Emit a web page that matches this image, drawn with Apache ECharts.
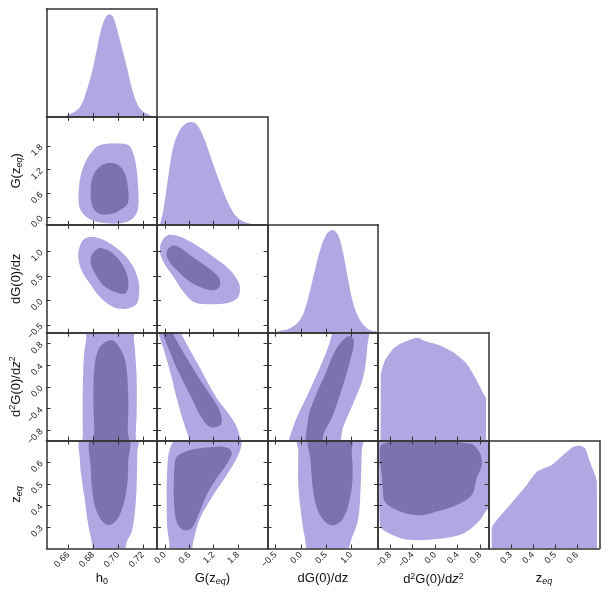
<!DOCTYPE html>
<html lang="en">
<head>
<meta charset="utf-8">
<title>Triangle plot</title>
<script src="https://cdn.jsdelivr.net/npm/echarts@6.0.0/dist/echarts.min.js"></script>
<style>
    html, body { margin: 0; padding: 0; background: #fff; }
    #chart { width: 609px; height: 596px; }
</style>
</head>
<body>
<div id="chart"></div>
<script>
// tick values for each parameter
const h0Ticks = [0.66, 0.68, 0.70, 0.72];
const gTicks = [0.0, 0.6, 1.2, 1.8];
const dgTicks = [-0.5, 0.0, 0.5, 1.0];
const d2gTicks = [-0.8, -0.4, 0.0, 0.4, 0.8];
const zeqTicks = [0.3, 0.4, 0.5, 0.6];

// axis limits (x per column, y per row)
const xLims = [[0.6425, 0.7315], [-0.19, 2.53], [-0.66, 1.54], [-1.01, 0.95], [0.2, 0.7]];
const yLims = [null, [-0.19, 2.53], [-0.66, 1.54], [-0.99, 1.0], [0.2, 0.7]];

// 1D marginals (normalised to peak)
const h0_pdf = [[0.6425, 0], [0.656, 0.005], [0.662, 0.03], [0.6695, 0.097], [0.6749, 0.26], [0.6802, 0.49], [0.6856, 0.81], [0.6896, 0.96], [0.6931, 1.0], [0.6963, 0.97], [0.7017, 0.74], [0.7071, 0.49], [0.7124, 0.23], [0.7178, 0.08], [0.7258, 0.017], [0.7315, 0.0]];
const G_pdf = [[-0.117, 0], [-0.036, 0.144], [0.087, 0.47], [0.21, 0.76], [0.375, 0.925], [0.539, 0.99], [0.662, 1.0], [0.785, 0.975], [0.948, 0.86], [1.154, 0.634], [1.359, 0.406], [1.563, 0.21], [1.769, 0.079], [2.015, 0.02], [2.342, 0.0]];
const dG_pdf = [[-0.52, 0], [-0.479, 0.01], [-0.214, 0.043], [-0.015, 0.123], [0.118, 0.285], [0.249, 0.542], [0.383, 0.80], [0.516, 0.962], [0.635, 1.0], [0.747, 0.945], [0.846, 0.768], [0.946, 0.51], [1.045, 0.285], [1.179, 0.123], [1.344, 0.033], [1.511, 0.01], [1.54, 0]];
const d2G_pdf = [[-0.965, 0], [-0.964, 0.635], [-0.889, 0.78], [-0.741, 0.894], [-0.593, 0.949], [-0.387, 0.992], [-0.298, 1.0], [-0.21, 0.974], [0.087, 0.926], [0.322, 0.86], [0.56, 0.748], [0.737, 0.587], [0.854, 0.458], [0.902, 0.41], [0.903, 0]];
const zeq_pdf = [[0.2136, 0], [0.2136, 0.196], [0.296, 0.423], [0.372, 0.618], [0.417, 0.747], [0.485, 0.812], [0.537, 0.91], [0.583, 0.99], [0.613, 1.0], [0.636, 0.975], [0.658, 0.844], [0.681, 0.715], [0.689, 0.65], [0.690, 0]];

// 2D contours: outer (95%) and inner (68%)
const h0_G_outer = [[0.6856, 1.82], [0.6963, 1.86], [0.7083, 1.82], [0.7124, 1.61], [0.7151, 1.19], [0.7164, 0.68], [0.7164, 0.26], [0.7137, 0.03], [0.7071, -0.12], [0.6936, -0.16], [0.6802, -0.09], [0.6721, 0.08], [0.6687, 0.30], [0.6687, 0.77], [0.6708, 1.14], [0.6753, 1.48], [0.6802, 1.69]];
const h0_G_inner = [[0.6950, 1.37], [0.7010, 1.30], [0.7057, 1.10], [0.7083, 0.68], [0.7079, 0.35], [0.7017, 0.18], [0.6963, 0.10], [0.6856, 0.08], [0.6797, 0.26], [0.6781, 0.68], [0.6802, 1.06], [0.6869, 1.31]];
const h0_dG_outer = [[0.6735, 1.26], [0.6695, 1.12], [0.6681, 0.885], [0.6708, 0.61], [0.6775, 0.34], [0.6856, 0.07], [0.6963, -0.135], [0.7071, -0.17], [0.7151, -0.07], [0.7172, 0.21], [0.7164, 0.41], [0.7124, 0.68], [0.7043, 0.95], [0.6936, 1.16], [0.6829, 1.28]];
const h0_dG_inner = [[0.6842, 1.06], [0.6789, 0.92], [0.6781, 0.75], [0.6815, 0.55], [0.6882, 0.31], [0.6976, 0.17], [0.7057, 0.14], [0.7083, 0.27], [0.7075, 0.51], [0.7030, 0.75], [0.6963, 0.95], [0.6896, 1.04]];
const h0_d2G_outer = [[0.6752, 1.15], [0.6745, 0.9], [0.6727, 0.6], [0.6719, 0.13], [0.6716, -0.43], [0.6718, -0.9], [0.6721, -1.1], [0.7141, -1.1], [0.7143, -0.9], [0.7151, -0.43], [0.7151, 0.13], [0.7140, 0.6], [0.7128, 0.9], [0.7124, 1.15]];
const h0_d2G_inner = [[0.6936, 0.865], [0.6990, 0.80], [0.7057, 0.497], [0.7083, -0.18], [0.7079, -0.79], [0.7075, -1.1], [0.6810, -1.1], [0.6810, -0.794], [0.6802, -0.18], [0.6815, 0.436], [0.6856, 0.74]];
const h0_zeq_outer = [[0.6708, 0.72], [0.6695, 0.602], [0.6708, 0.525], [0.6735, 0.417], [0.6761, 0.309], [0.6789, 0.231], [0.6798, 0.2], [0.6802, 0.18], [0.7057, 0.18], [0.7062, 0.2], [0.7071, 0.231], [0.7111, 0.278], [0.7137, 0.37], [0.7151, 0.494], [0.7156, 0.649], [0.7156, 0.72]];
const h0_zeq_inner = [[0.6789, 0.72], [0.6781, 0.572], [0.6807, 0.417], [0.6856, 0.34], [0.6922, 0.309], [0.6990, 0.332], [0.7043, 0.40], [0.7075, 0.494], [0.7083, 0.602], [0.7083, 0.72]];
const G_dG_outer = [[0.087, 1.33], [-0.076, 1.195], [-0.117, 0.99], [-0.036, 0.787], [0.21, 0.48], [0.456, 0.176], [0.70, -0.029], [0.948, -0.076], [1.523, -0.06], [1.784, 0.04], [1.85, 0.21], [1.81, 0.38], [1.605, 0.62], [1.194, 0.89], [0.70, 1.163], [0.375, 1.297]];
const G_dG_inner = [[0.17, 1.108], [0.047, 0.99], [0.087, 0.82], [0.293, 0.62], [0.62, 0.38], [0.948, 0.245], [1.236, 0.21], [1.359, 0.31], [1.317, 0.48], [1.031, 0.685], [0.62, 0.924], [0.333, 1.093]];
const G_d2G_outer = [[-0.216, 1.14], [0.30, 1.14], [0.416, 0.963], [0.867, 0.349], [1.277, -0.204], [1.646, -0.573], [1.809, -0.818], [1.875, -1.16], [0.68, -1.16], [0.62, -1.0], [0.456, -0.634], [0.293, -0.204], [0.129, 0.288], [-0.036, 0.718], [-0.159, 1.0]];
const G_d2G_inner = [[-0.117, 1.14], [0.079, 1.14], [0.21, 0.963], [0.539, 0.533], [0.948, 0.041], [1.277, -0.328], [1.40, -0.573], [1.359, -0.708], [1.113, -0.739], [0.908, -0.573], [0.62, -0.143], [0.293, 0.349], [0.087, 0.718], [-0.036, 0.963]];
const G_zeq_outer = [[0.129, 0.664], [0.30, 0.705], [1.80, 0.705], [1.892, 0.687], [1.769, 0.618], [1.523, 0.541], [1.194, 0.448], [0.867, 0.34], [0.70, 0.231], [0.62, 0.17], [0.153, 0.17], [0.112, 0.231], [0.062, 0.294], [0.047, 0.417], [0.062, 0.572]];
const G_zeq_inner = [[0.293, 0.625], [0.62, 0.656], [1.277, 0.672], [1.563, 0.664], [1.646, 0.641], [1.563, 0.602], [1.277, 0.525], [1.031, 0.448], [0.825, 0.355], [0.662, 0.294], [0.456, 0.286], [0.293, 0.324], [0.227, 0.417], [0.227, 0.541], [0.252, 0.602]];
const dG_d2G_outer = [[0.582, 1.14], [1.318, 1.14], [1.324, 0.742], [1.244, 0.189], [1.045, -0.302], [0.846, -0.733], [0.701, -1.16], [-0.214, -1.16], [-0.149, -0.733], [0.118, -0.18], [0.417, 0.436], [0.616, 0.958]];
const dG_d2G_inner = [[0.98, 0.934], [1.059, 0.841], [0.98, 0.473], [0.781, -0.143], [0.616, -0.573], [0.448, -0.88], [0.403, -1.16], [0.124, -1.16], [0.15, -0.573], [0.249, -0.265], [0.482, 0.226], [0.681, 0.657], [0.846, 0.871]];
const dG_zeq_outer = [[-0.049, 0.72], [-0.049, 0.649], [-0.049, 0.494], [0.019, 0.34], [0.084, 0.247], [0.18, 0.17], [0.86, 0.17], [1.014, 0.247], [1.145, 0.34], [1.193, 0.494], [1.213, 0.649], [1.213, 0.72]];
const dG_zeq_inner = [[0.184, 0.72], [0.198, 0.602], [0.249, 0.463], [0.349, 0.37], [0.516, 0.317], [0.681, 0.309], [0.846, 0.34], [0.98, 0.433], [1.033, 0.541], [1.014, 0.649], [1.0, 0.72]];
const d2G_zeq_outer = [[-0.99, 0.72], [-0.99, 0.572], [-0.978, 0.309], [-0.919, 0.286], [-0.681, 0.255], [-0.445, 0.24], [0.028, 0.244], [0.50, 0.27], [0.796, 0.332], [0.915, 0.378], [1.0, 0.40], [1.0, 0.72]];
const d2G_zeq_inner = [[-0.947, 0.681], [-0.564, 0.695], [0.618, 0.687], [0.796, 0.641], [0.826, 0.587], [0.737, 0.525], [0.649, 0.448], [0.383, 0.402], [0.028, 0.371], [-0.21, 0.355], [-0.445, 0.359], [-0.681, 0.378], [-0.889, 0.417], [-0.929, 0.479], [-0.947, 0.541], [-0.977, 0.618]];

const ticks = [h0Ticks, gTicks, dgTicks, d2gTicks, zeqTicks];
const decimals = [2, 1, 1, 1, 1];
const names = ['h{num|0}', 'G(z{sub|eq})', 'dG(0)/dz', 'd{sup|2}G(0)/d{it|z}{sup|2}', 'z{sub|eq}'];
const pdfs = [h0_pdf, G_pdf, dG_pdf, d2G_pdf, zeq_pdf];
const contours = [
    [1, 0, h0_G_outer, h0_G_inner],
    [2, 0, h0_dG_outer, h0_dG_inner],
    [3, 0, h0_d2G_outer, h0_d2G_inner],
    [4, 0, h0_zeq_outer, h0_zeq_inner],
    [2, 1, G_dG_outer, G_dG_inner],
    [3, 1, G_d2G_outer, G_d2G_inner],
    [4, 1, G_zeq_outer, G_zeq_inner],
    [3, 2, dG_d2G_outer, dG_d2G_inner],
    [4, 2, dG_zeq_outer, dG_zeq_inner],
    [4, 3, d2G_zeq_outer, d2G_zeq_inner]
];

const FONT = '"Liberation Sans", Arial, sans-serif';
const LIGHT = '#b2a6e3';
const DARK = '#7e71af';
const LINE = '#333333';
// smoothing of each marginal (sharper where the curve has a hard edge)
const pdfSmooth = [0.35, 0.35, 0.35, 0.2, 0.15];

const richStyle = {
    sub: { fontSize: 9, fontFamily: FONT, color: '#111', fontStyle: 'italic', padding: [6, 0, 0, 0] },
    num: { fontSize: 9, fontFamily: FONT, color: '#111', padding: [6, 0, 0, 0] },
    sup: { fontSize: 9, fontFamily: FONT, color: '#111', padding: [0, 0, 6, 0] },
    it: { fontSize: 13, fontFamily: FONT, color: '#111', fontStyle: 'italic' }
};

function makeAxis(pos, gi, lim, tv, dec, showTick, showLabel, name) {
    let a = {
        type: 'value', gridIndex: gi, position: pos, min: lim[0], max: lim[1], z: 10,
        axisLine: { show: true, onZero: false, lineStyle: { color: LINE, width: 1.5 } },
        axisTick: { show: showTick, inside: true, length: 4, lineStyle: { color: LINE, width: 1 } },
        axisLabel: {
            show: showLabel, rotate: 45, margin: 5, fontSize: 9, color: '#222', fontFamily: FONT,
            formatter: function (v) { return v.toFixed(dec).replace('-', '\u2212'); }
        },
        splitLine: { show: false }
    };
    if (tv) {
        a.axisTick.customValues = tv;
        a.axisLabel.customValues = tv;
    }
    if (name) {
        a.name = name;
        a.nameLocation = 'middle';
        a.nameGap = (pos === 'bottom') ? 22 : 23;
        if (pos === 'left') a.nameRotate = 90;
        a.nameTextStyle = { fontSize: 13, color: '#111', fontFamily: FONT, rich: richStyle };
    }
    return a;
}

let option = { animation: false, grid: [], xAxis: [], yAxis: [], series: [] };
let gridOf = {};
let g = 0;
for (let i = 0; i < 5; i++) {
    for (let j = 0; j <= i; j++) {
        let diag = (i === j);
        option.grid.push({ left: 46.5 + 110.55 * j, top: 9 + 107.9 * i, width: 110.55, height: 107.9 });
        let yl = diag ? [0, 1.05] : yLims[i];
        let bottomRow = (i === 4);
        option.xAxis.push(makeAxis('bottom', g, xLims[j], ticks[j], decimals[j], true, bottomRow, bottomRow ? names[j] : null));
        option.xAxis.push(makeAxis('top', g, xLims[j], ticks[j], decimals[j], !diag, false, null));
        option.yAxis.push(makeAxis('left', g, yl, diag ? null : ticks[i], decimals[i], !diag, !diag && j === 0, (!diag && j === 0) ? names[i] : null));
        option.yAxis.push(makeAxis('right', g, yl, diag ? null : ticks[i], decimals[i], !diag, false, null));
        gridOf[i + '_' + j] = g;
        g++;
    }
}

function polygonSeries(gi, pts, color) {
    return {
        type: 'custom', xAxisIndex: 2 * gi, yAxisIndex: 2 * gi, clip: true, silent: true,
        data: pts,
        renderItem: function (params, api) {
            if (params.dataIndex !== 0) return null;
            return {
                type: 'polygon',
                shape: { points: pts.map(function (p) { return api.coord(p); }), smooth: 0.35 },
                style: { fill: color }
            };
        }
    };
}

contours.forEach(function (c) {
    let gi = gridOf[c[0] + '_' + c[1]];
    option.series.push(polygonSeries(gi, c[2], LIGHT));
    option.series.push(polygonSeries(gi, c[3], DARK));
});

pdfs.forEach(function (d, k) {
    let gi = gridOf[k + '_' + k];
    option.series.push({
        type: 'line', xAxisIndex: 2 * gi, yAxisIndex: 2 * gi, data: d,
        smooth: pdfSmooth[k], showSymbol: false, silent: true, clip: true,
        lineStyle: { width: 0 }, areaStyle: { color: LIGHT, opacity: 1 }
    });
});

let chart = echarts.init(document.getElementById('chart'));
chart.setOption(option);
</script>
</body>
</html>
